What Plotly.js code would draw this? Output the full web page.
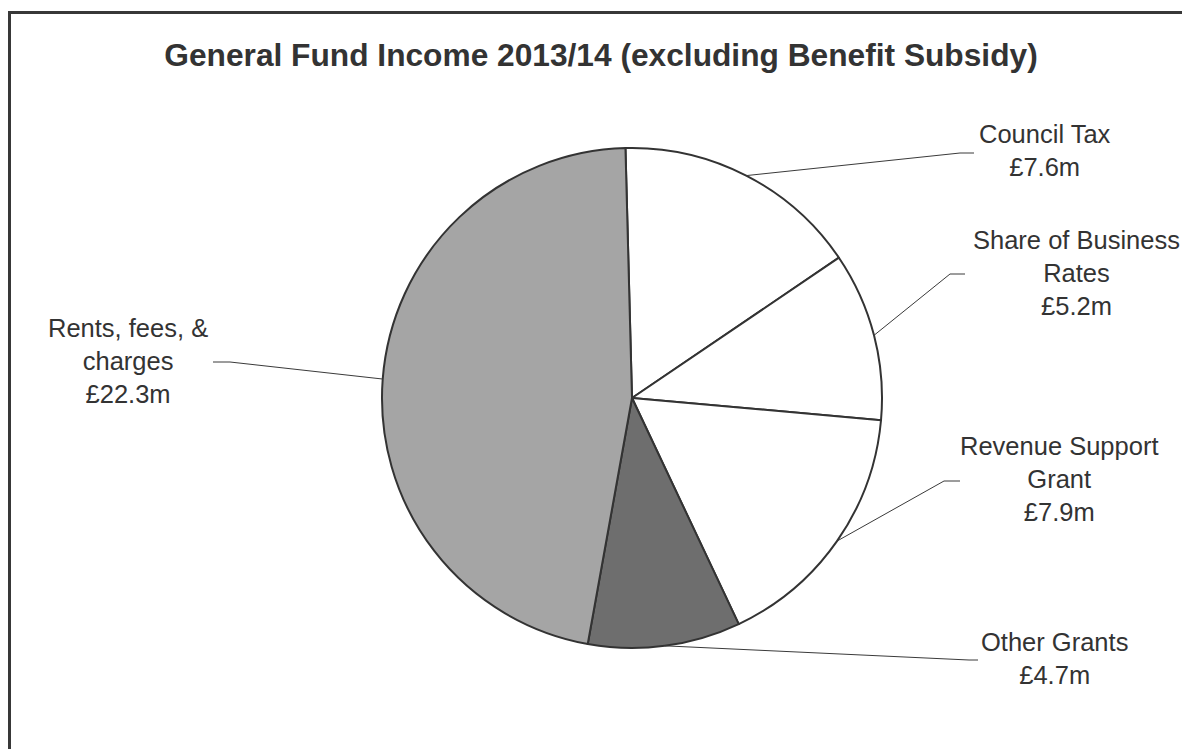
<!DOCTYPE html>
<html><head><meta charset="utf-8">
<script src="https://cdn.plot.ly/plotly-3.0.1.min.js"></script>
<style>
html,body{margin:0;padding:0;background:#fff;overflow:hidden}
#chart{width:1182px;height:749px;position:absolute;left:0;top:0}
#frame{position:absolute;left:8px;top:11px;width:1300px;height:900px;border:3px solid #383838;pointer-events:none}
</style></head><body>
<div id="chart"></div><div id="frame"></div>
<script>
// ---- data ----
const categories = ['Council Tax', 'Share of Business Rates', 'Revenue Support Grant', 'Other Grants', 'Rents, fees, & charges'];
const values = [7.6, 5.2, 7.9, 4.7, 22.3];
const labelLines = [['Council Tax'], ['Share of Business', 'Rates'], ['Revenue Support', 'Grant'], ['Other Grants'], ['Rents, fees, &', 'charges']];
const sliceColors = ['#ffffff', '#ffffff', '#ffffff', '#6e6e6e', '#a5a5a5'];

// ---- layout constants (pixels) ----
const W = 1182, H = 749;
const CX = 632, CY = 398, R = 250;
const ROT = -1.5;
const labelX = [1045, 1076, 1059, 1054, 128];
const labelY = [151, 273, 479, 658, 361];
const elbowX = [960, 950, 944, 969, 230];
const elbowY = [153, 274, 481, 660, 362];
const endX   = [974, 965, 960, 978, 213];

const px = x => x / W;
const py = y => 1 - y / H;

const valueLabels = values.map(v => '£' + v.toFixed(1) + 'm');
const total = values.reduce((a, b) => a + b, 0);

const annotations = [];
const shapes = [];
let cum = 0;
values.forEach((v, i) => {
  const mid = (ROT + 360 * (cum + v / 2) / total) * Math.PI / 180;
  cum += v;
  const ex = CX + R * Math.sin(mid), ey = CY - R * Math.cos(mid);
  shapes.push({
    type: 'path', xref: 'paper', yref: 'paper',
    path: `M ${px(ex)} ${py(ey)} L ${px(elbowX[i])} ${py(elbowY[i])} L ${px(endX[i])} ${py(elbowY[i])}`,
    line: {color: '#3a3a3a', width: 1}
  });
  annotations.push({
    xref: 'paper', yref: 'paper', x: px(labelX[i]), y: py(labelY[i]),
    xanchor: 'center', yanchor: 'middle', align: 'center', showarrow: false,
    text: labelLines[i].concat([valueLabels[i]]).join('<br>'),
    font: {family: 'Liberation Sans, Arial, sans-serif', size: 25.5, color: '#333333'}
  });
});

const trace = {
  type: 'pie',
  labels: categories,
  values: values,
  sort: false,
  direction: 'clockwise',
  rotation: ROT,
  marker: {colors: sliceColors, line: {color: '#333333', width: 2}},
  textinfo: 'none',
  hoverinfo: 'skip',
  showlegend: false,
  domain: {x: [px(CX - R), px(CX + R)], y: [py(CY + R), py(CY - R)]}
};

const layout = {
  width: W, height: H,
  margin: {l: 0, r: 0, t: 0, b: 0},
  paper_bgcolor: '#ffffff',
  showlegend: false,
  title: {
    text: '<b>General Fund Income 2013/14 (excluding Benefit Subsidy)</b>',
    x: 601 / W, xanchor: 'center', xref: 'paper',
    y: 1 - 55 / H, yanchor: 'middle', yref: 'container',
    font: {family: 'Liberation Sans, Arial, sans-serif', size: 31.7, color: '#333333'}
  },
  annotations: annotations,
  shapes: shapes
};

Plotly.newPlot('chart', [trace], layout, {displayModeBar: false, staticPlot: true});
</script>
</body></html>
